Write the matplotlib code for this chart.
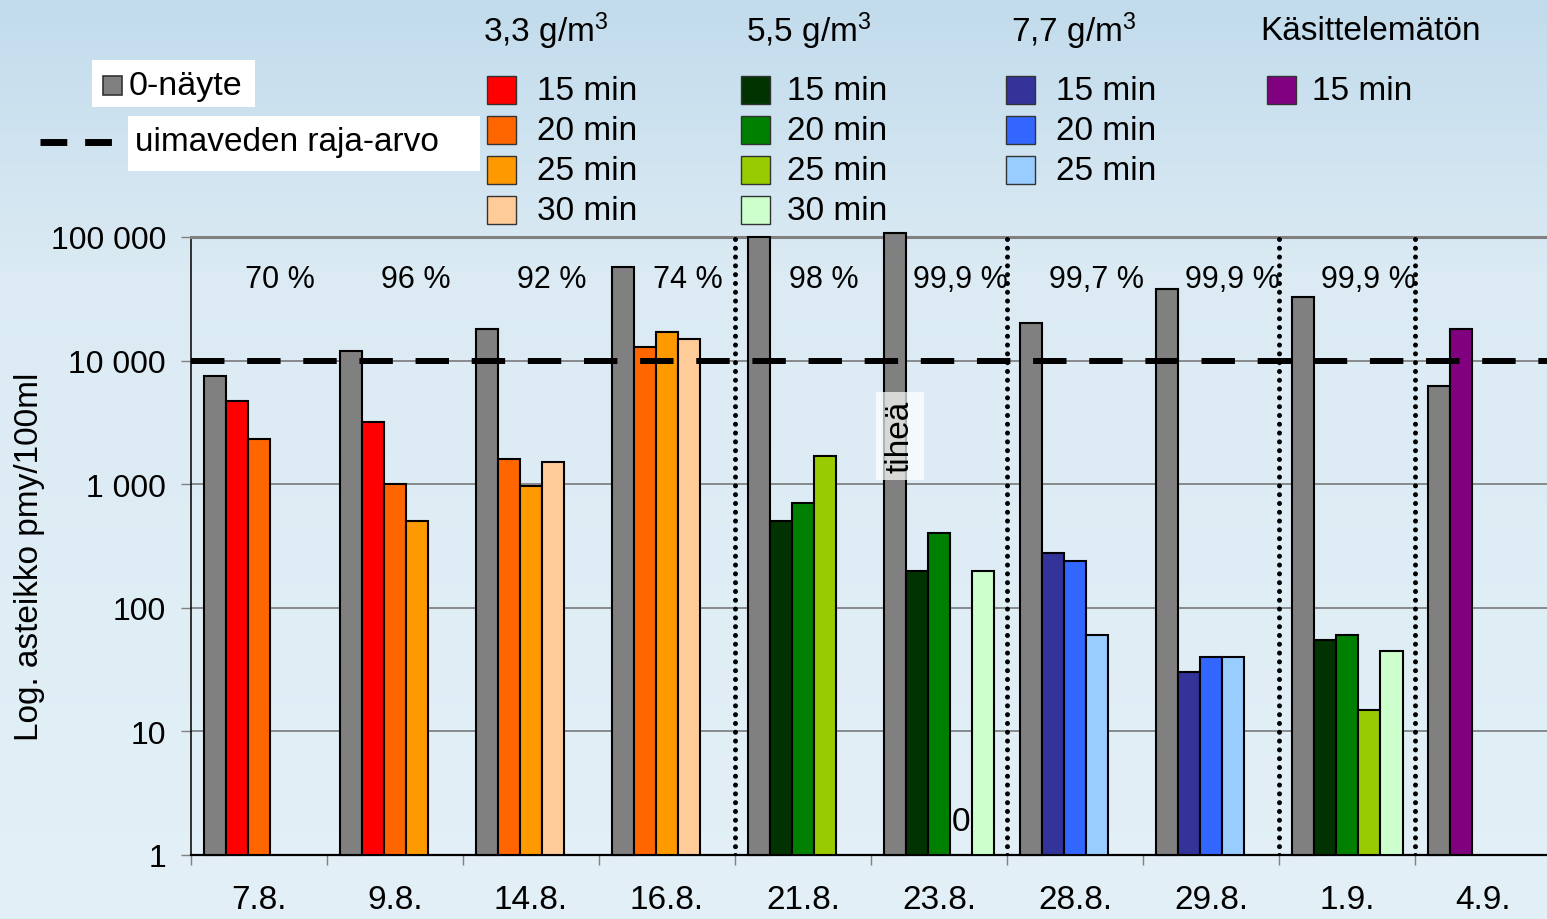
import numpy as np
import matplotlib.pyplot as plt
from matplotlib.patches import Rectangle
from matplotlib.lines import Line2D
from matplotlib.ticker import NullLocator

plt.rcParams['font.family'] = ['Liberation Sans', 'DejaVu Sans']
plt.rcParams['mathtext.fontset'] = 'custom'
plt.rcParams['mathtext.rm'] = 'Liberation Sans'
plt.rcParams['mathtext.it'] = 'Liberation Sans:italic'

# Sampling dates and reduction percentages
dates = ['7.8.', '9.8.', '14.8.', '16.8.', '21.8.', '23.8.', '28.8.', '29.8.', '1.9.', '4.9.']
reduction = ['70 %', '96 %', '92 %', '74 %', '98 %', '99,9 %', '99,7 %', '99,9 %', '99,9 %', '']

# 0-sample (untreated reference)
nayte0 = [7500, 12000, 18000, 57000, 100000, 108000, 20000, 38000, 33000, 6200]

N = None
# 3,3 g/m3
d33_15 = [4700, 3200, N, N, N, N, N, N, N, N]
d33_20 = [2300, 1000, 1600, 13000, N, N, N, N, N, N]
d33_25 = [N, 500, 970, 17000, N, N, N, N, N, N]
d33_30 = [N, N, 1500, 15000, N, N, N, N, N, N]
# 5,5 g/m3
d55_15 = [N, N, N, N, 500, 200, N, N, 55, N]
d55_20 = [N, N, N, N, 700, 400, N, N, 60, N]
d55_25 = [N, N, N, N, 1700, 0, N, N, 15, N]
d55_30 = [N, N, N, N, N, 200, N, N, 45, N]
# 7,7 g/m3
d77_15 = [N, N, N, N, N, N, 280, 30, N, N]
d77_20 = [N, N, N, N, N, N, 240, 40, N, N]
d77_25 = [N, N, N, N, N, N, 60, 40, N, N]
# Käsittelemätön
kas_15 = [N, N, N, N, N, N, N, N, N, 18000]

limit = 10000  # uimaveden raja-arvo
time_labels = ['15 min', '20 min', '25 min', '30 min']

W, H = 1547, 920
fig = plt.figure(figsize=(W / 100, H / 100), dpi=100)

def fx(x):
    return x / W

def fy(y):
    return 1 - y / H

# background gradient
bg = fig.add_axes([0, 0, 1, 1], zorder=-10)
rows = np.linspace(0, 1, 400)
top = np.array([0.76, 0.86, 0.925])
mid = np.array([0.86, 0.92, 0.955])
bot = np.array([0.89, 0.94, 0.97])
grad = np.where(rows[:, None] < 0.3,
                top + (mid - top) * (rows[:, None] / 0.3),
                mid + (bot - mid) * ((rows[:, None] - 0.3) / 0.7))
bg.imshow(grad[:, None, :], aspect='auto', extent=[0, 1, 0, 1])
bg.axis('off')

ax = fig.add_axes([fx(191), fy(856), fx(1360), 618 / H])
ax.patch.set_alpha(0)

c_grey = '#808080'
series = [
    (d33_15, '#FF0000'), (d33_20, '#FF6600'), (d33_25, '#FF9900'), (d33_30, '#FFCC99'),
    (d55_15, '#003300'), (d55_20, '#008000'), (d55_25, '#99CC00'), (d55_30, '#CCFFCC'),
    (d77_15, '#333399'), (d77_20, '#3366FF'), (d77_25, '#99CCFF'),
    (kas_15, '#800080'),
]

bw = 22.2 / 136
for i, v in enumerate(nayte0):
    ax.bar(i - 2 * bw, v - 1, bottom=1, width=bw, color=c_grey,
           edgecolor='black', lw=1.5, zorder=3, clip_on=False)

used = [1] * len(dates)
for vals, col in series:
    for i, v in enumerate(vals):
        if v is None:
            continue
        x = i + (used[i] - 2) * bw
        used[i] += 1
        if v > 0:
            ax.bar(x, v - 1, bottom=1, width=bw, color=col,
                   edgecolor='black', lw=1.5, zorder=3)
        else:
            ax.text(x, 1.4, '0', ha='center', va='bottom', fontsize=24, zorder=5)

ax.set_yscale('log')
ax.set_ylim(1, 100000)
ax.set_xlim(-0.5, len(dates) - 0.5)

ax.set_yticks([1, 10, 100, 1000, 10000, 100000])
ax.set_yticklabels(['1', '10', '100', '1 000', '10 000', '100 000'])
ax.yaxis.set_minor_locator(NullLocator())
ax.tick_params(axis='y', direction='out', length=7, width=1, colors=c_grey,
               labelcolor='black', labelsize=23, pad=11)

ax.set_xticks(np.arange(-0.5, len(dates), 1))
ax.set_xticklabels([])
ax.set_xticks(np.arange(len(dates)), minor=True)
ax.set_xticklabels(dates, minor=True)
ax.tick_params(axis='x', which='major', direction='out', length=7, width=1, colors=c_grey)
ax.tick_params(axis='x', which='minor', length=0, labelsize=24, pad=21, labelcolor='black')

ax.yaxis.grid(True, color='#707070', lw=1.1)
ax.set_axisbelow(True)
ax.spines['right'].set_visible(False)
ax.spines['top'].set_color(c_grey)
ax.spines['top'].set_linewidth(2.2)
ax.spines['left'].set_color('black')
ax.spines['left'].set_linewidth(1.1)
ax.spines['bottom'].set_color('black')
ax.spines['bottom'].set_linewidth(1.6)

# limit line
ax.axhline(limit, color='black', lw=4.3, dashes=(5.6, 3.8), zorder=4)

# dose separators
for xs in [3.5, 5.5, 7.5, 8.5]:
    ax.axvline(xs, color='black', lw=3.6, linestyle=(0, (0.01, 1.75)),
               dash_capstyle='round', zorder=4)

for i, t in enumerate(reduction):
    if t:
        ax.text(i + 0.155, 45700, t, ha='center', va='center', fontsize=22)

ax.text(4.713, 2455, 'tiheä', rotation=90, ha='center', va='center', fontsize=24,
        bbox=dict(boxstyle='square,pad=0.25', fc='white', ec='none', alpha=0.7), zorder=5)

fig.text(fx(30), fy(557), 'Log. asteikko pmy/100ml', rotation=90,
         ha='center', va='center', fontsize=24)

# legend: 0-näyte and limit line
fig.patches.append(Rectangle((fx(92), fy(108)), fx(163), 47 / H, transform=fig.transFigure,
                             fc='white', ec='none', zorder=1))
fig.patches.append(Rectangle((fx(103), fy(96)), fx(19), 19 / H, transform=fig.transFigure,
                             fc=c_grey, ec='#333333', lw=1.2, zorder=2))
fig.text(fx(129), fy(87), '0-näyte', ha='left', va='center', fontsize=24.5, zorder=3)

fig.lines.append(Line2D([fx(40), fx(112)], [fy(143), fy(143)], transform=fig.transFigure,
                        color='black', lw=5, dashes=(27 / 7, 18 / 7)))
fig.patches.append(Rectangle((fx(128), fy(172)), fx(352), 55 / H, transform=fig.transFigure,
                             fc='white', ec='none', zorder=1))
fig.text(fx(135), fy(142), 'uimaveden raja-arvo', ha='left', va='center', fontsize=24, zorder=3)

# legend: dose columns
headers = ['3,3 g/m$^{3}$', '5,5 g/m$^{3}$', '7,7 g/m$^{3}$', 'Käsittelemätön']
head_x = [483, 746, 1011, 1260]
box_x = [487, 741, 1006, 1267]
text_x = [537, 787, 1056, 1312]
row_y = [91, 131, 171, 211]
groups = [series[0:4], series[4:8], series[8:11], series[11:12]]
for h, hx, bx, tx, grp in zip(headers, head_x, box_x, text_x, groups):
    fig.text(fx(hx), fy(31), h, ha='left', va='center', fontsize=24)
    for k, (vals, col) in enumerate(grp):
        fig.patches.append(Rectangle((fx(bx), fy(row_y[k] + 14)), fx(29), 28 / H,
                                     transform=fig.transFigure, fc=col, ec='#333333', lw=1))
        fig.text(fx(tx), fy(row_y[k] + 1), time_labels[k], ha='left', va='center', fontsize=24)

fig.savefig('out.png', dpi=100)
